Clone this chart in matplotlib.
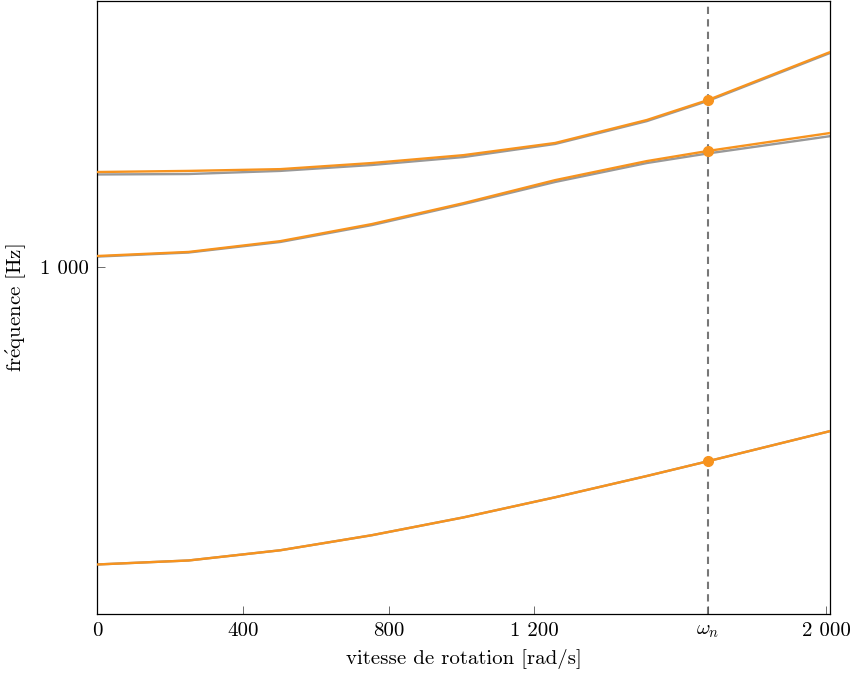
import matplotlib
matplotlib.use("Agg")
import matplotlib.pyplot as plt

# rotation speed [rad/s]
omega = [0, 251.3, 502.7, 754.0, 1005.3, 1256.6, 1508.0, 1675.5, 2010.6]
omega_n = 1675.5

# orange model
f1_orange = [376, 381, 394, 414, 439, 469, 503, 528, 583]
f2_orange = [1037, 1051, 1089, 1152, 1234, 1331, 1417, 1465, 1554]
f3_orange = [1367, 1372, 1380, 1408, 1445, 1504, 1622, 1732, 2028]

# gray model
f1_gray = [376, 381, 394, 414, 439, 469, 503, 528, 583]
f2_gray = [1035, 1049, 1086, 1148, 1230, 1323, 1408, 1453, 1538]
f3_gray = [1356, 1358, 1372, 1399, 1436, 1499, 1616, 1727, 2022]

# points at omega_n
dots = [528, 1465, 1732]

xticks = [0, 400, 800, 1200, omega_n, 2000]
xticklabels = ["0", "400", "800", "1 200", r"$\omega_n$", "2 000"]
yticks = [1000]
yticklabels = ["1 000"]

plt.rcParams["font.family"] = ["cmr10", "DejaVu Serif"]
plt.rcParams["mathtext.fontset"] = "cm"
plt.rcParams["axes.formatter.use_mathtext"] = True

ORANGE = "#F7931E"
GRAY = "#999999"

fig = plt.figure(figsize=(8.59, 6.79), dpi=100)
ax = fig.add_axes([97 / 859, 1 - 614 / 679, (830 - 97) / 859, 613 / 679])

ax.axvline(omega_n, color="#777777", lw=1.5, ls=(0, (3.5, 2.5)), zorder=1)

for g in (f1_gray, f2_gray, f3_gray):
    ax.plot(omega, g, color=GRAY, lw=1.7, zorder=2)
for o in (f1_orange, f2_orange, f3_orange):
    ax.plot(omega, o, color=ORANGE, lw=1.7, zorder=3)

ax.plot([omega_n] * len(dots), dots, "o", color=ORANGE, ms=7, zorder=4)

ax.set_yscale("log")
ax.set_xlim(0, 2010.6)
ax.set_ylim(319.5, 2399)

ax.set_xticks(xticks)
ax.set_xticklabels(xticklabels)
ax.set_yticks(yticks)
ax.set_yticklabels(yticklabels)
ax.yaxis.set_minor_locator(matplotlib.ticker.NullLocator())
ax.tick_params(direction="in", length=6, width=0.6, color="#555555",
               labelsize=15, pad=6)

ax.set_xlabel("vitesse de rotation [rad/s]", fontsize=15, labelpad=6)
ax.set_ylabel(r"fr$\mathrm{\acute{e}}$quence [Hz]", fontsize=15, labelpad=8)
for s in ax.spines.values():
    s.set_linewidth(0.9)

fig.savefig("out.png", dpi=100)
